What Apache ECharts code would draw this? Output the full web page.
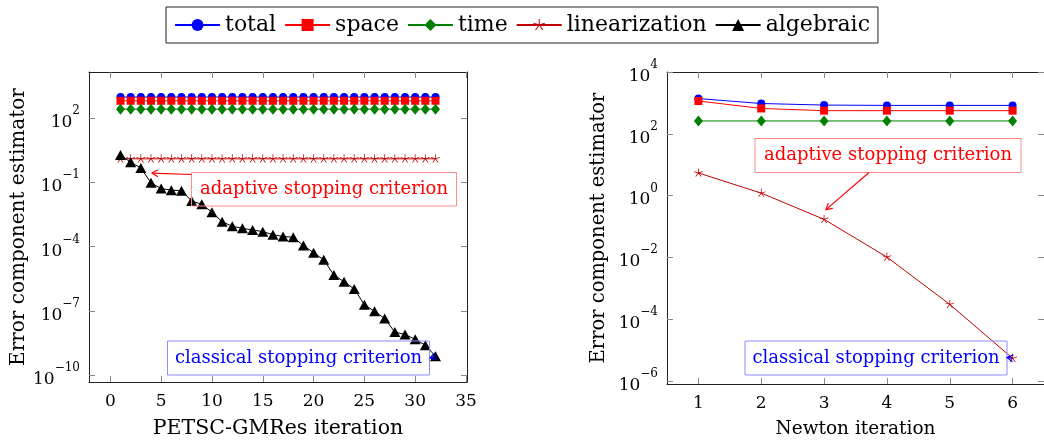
<!DOCTYPE html>
<html>
<head>
<meta charset="utf-8">
<script src="https://cdn.jsdelivr.net/npm/echarts@6/dist/echarts.min.js"></script>
<style>
html, body { margin: 0; padding: 0; background: #fff; }
#chart { width: 1044px; height: 444px; }
</style>
</head>
<body>
<div id="chart"></div>
<script>
// left plot: PETSc-GMRes iterations inside one Newton step
var gmresIters = [1, 2, 3, 4, 5, 6, 7, 8, 9, 10, 11, 12, 13, 14, 15, 16,
    17, 18, 19, 20, 21, 22, 23, 24, 25, 26, 27, 28, 29, 30, 31, 32];
var gmresTotal = [955, 955, 955, 955, 955, 955, 955, 955, 955, 955, 955, 955, 955, 955, 955, 955,
    955, 955, 955, 955, 955, 955, 955, 955, 955, 955, 955, 955, 955, 955, 955, 955];
var gmresSpace = [640, 640, 640, 640, 640, 640, 640, 640, 640, 640, 640, 640, 640, 640, 640, 640,
    640, 640, 640, 640, 640, 640, 640, 640, 640, 640, 640, 640, 640, 640, 640, 640];
var gmresTime = [260, 260, 260, 260, 260, 260, 260, 260, 260, 260, 260, 260, 260, 260, 260, 260,
    260, 260, 260, 260, 260, 260, 260, 260, 260, 260, 260, 260, 260, 260, 260, 260];
var gmresLin = [1.25, 1.25, 1.25, 1.25, 1.25, 1.25, 1.25, 1.25, 1.25, 1.25, 1.25, 1.25, 1.25, 1.25, 1.25, 1.25,
    1.25, 1.25, 1.25, 1.25, 1.25, 1.25, 1.25, 1.25, 1.25, 1.25, 1.25, 1.25, 1.25, 1.25, 1.25, 1.25];
var gmresAlg = [1.9, 0.87, 0.47, 0.095, 0.051, 0.043, 0.041, 0.0135, 0.0095, 0.004, 1.45e-3, 8.9e-4,
    7.1e-4, 6.0e-4, 5.0e-4, 3.6e-4, 2.95e-4, 2.75e-4, 1.12e-4, 5.2e-5, 2.45e-5, 4.7e-6, 2.3e-6, 1.05e-6,
    1.95e-7, 9.5e-8, 4.4e-8, 1.02e-8, 7.9e-9, 4.7e-9, 2.5e-9, 7.6e-10];

// right plot: Newton iterations
var newtonIters = [1, 2, 3, 4, 5, 6];
var newtonTotal = [1380, 955, 850, 830, 830, 830];
var newtonSpace = [1150, 660, 560, 560, 560, 560];
var newtonTime = [260, 260, 260, 260, 260, 260];
var newtonLin = [5.4, 1.2, 0.17, 0.0102, 3e-4, 5.4e-6];

// ticks (y ticks are powers of ten)
var leftXTicks = [0, 5, 10, 15, 20, 25, 30, 35];
var leftYExp = [-10, -7, -4, -1, 2];
var rightXTicks = [1, 2, 3, 4, 5, 6];
var rightYExp = [-6, -4, -2, 0, 2, 4];

// where the annotation arrows point (data coordinates)
var leftAdaptiveTip = [4.1, 0.27];
var rightAdaptiveTip = [3.03, 0.35];

var FONT = '"DejaVu Serif", serif';
var chart = echarts.init(document.getElementById('chart'));

function starPath() {
    var d = '', w = 0.08;
    for (var k = 0; k < 5; k++) {
        var a = (-90 + 72 * k) * Math.PI / 180;
        var cx = Math.cos(a), cy = Math.sin(a), px = -cy * w, py = cx * w;
        d += 'M' + px.toFixed(3) + ' ' + py.toFixed(3) +
            'L' + (cx + px).toFixed(3) + ' ' + (cy + py).toFixed(3) +
            'L' + (cx - px).toFixed(3) + ' ' + (cy - py).toFixed(3) +
            'L' + (-px).toFixed(3) + ' ' + (-py).toFixed(3) + 'Z';
    }
    d += 'M-0.01 1L0.01 1L0 0.99Z';
    return 'path://' + d;
}
var STAR = starPath();

function pow10Label(v) {
    var e = v < 0 ? '\u2212' + (-v) : '' + v;
    return '{b|10}{e|' + e + '}';
}

function xAxisPair(grid, min, max, ticks, name, nameSize) {
    var tickStyle = { show: true, inside: true, length: 6, customValues: ticks, lineStyle: { color: '#888', width: 1 } };
    return [{
        type: 'value', gridIndex: grid, min: min, max: max, position: 'bottom',
        name: name, nameLocation: 'middle', nameGap: 36,
        nameTextStyle: { fontFamily: FONT, fontSize: nameSize, color: '#000' },
        axisLine: { onZero: false, lineStyle: { color: '#222', width: 1 } },
        axisTick: tickStyle,
        axisLabel: { customValues: ticks, margin: 11, fontFamily: FONT, fontSize: 17, color: '#000' },
        splitLine: { show: false }
    }, {
        type: 'value', gridIndex: grid, min: min, max: max, position: 'top',
        axisLine: { onZero: false, lineStyle: { color: '#222', width: 1 } },
        axisTick: tickStyle,
        axisLabel: { show: false },
        splitLine: { show: false }
    }];
}

function yAxisPair(grid, min, max, exps, nameSize) {
    var tickStyle = { show: true, inside: true, length: 6, customValues: exps, lineStyle: { color: '#888', width: 1 } };
    return [{
        type: 'value', gridIndex: grid, min: min, max: max, position: 'left',
        name: 'Error component estimator', nameLocation: 'middle', nameGap: 58,
        nameTextStyle: { fontFamily: FONT, fontSize: nameSize, color: '#000' },
        axisLine: { onZero: false, lineStyle: { color: '#222', width: 1 } },
        axisTick: tickStyle,
        axisLabel: {
            customValues: exps, margin: 9, formatter: pow10Label,
            rich: {
                b: { fontFamily: FONT, fontSize: 17, color: '#000', verticalAlign: 'bottom', lineHeight: 26 },
                e: { fontFamily: FONT, fontSize: 12, color: '#000', verticalAlign: 'top', lineHeight: 26 }
            }
        },
        splitLine: { show: false }
    }, {
        type: 'value', gridIndex: grid, min: min, max: max, position: 'right',
        axisLine: { onZero: false, lineStyle: { color: '#222', width: 1 } },
        axisTick: tickStyle,
        axisLabel: { show: false },
        splitLine: { show: false }
    }];
}

function series(name, xs, ys, color, symbol, size, grid) {
    return {
        name: name, type: 'line', xAxisIndex: grid * 2, yAxisIndex: grid * 2,
        data: xs.map(function (x, i) { return [x, Math.log10(ys[i])]; }),
        symbol: symbol, symbolSize: size, showSymbol: true,
        lineStyle: { color: color, width: 1 },
        itemStyle: { color: color, borderWidth: 0 },
        emphasis: { disabled: true },
        animation: false
    };
}

var BLUE = '#0000ff', RED = '#ff0000', GREEN = '#008000', DARKRED = '#bf0000', BLACK = '#000000';

chart.setOption({
    animation: false,
    grid: [
        { left: 89, top: 72, width: 378, height: 313 },
        { left: 667, top: 72, width: 378, height: 313 }
    ],
    legend: {
        data: ['total', 'space', 'time', 'linearization', 'algebraic'],
        top: 7, left: 'center',
        borderColor: '#222', borderWidth: 1, padding: [7, 8],
        itemWidth: 45, itemHeight: 15, itemGap: 8,
        textStyle: { fontFamily: FONT, fontSize: 22, color: '#000' }
    },
    xAxis: [].concat(
        xAxisPair(0, -2.1, 35.1, leftXTicks, 'PETSC-GMRes iteration', 20.5),
        xAxisPair(1, 0.5, 6.5, rightXTicks, 'Newton iteration', 18.5)
    ),
    yAxis: [].concat(
        yAxisPair(0, -10.32, 4.15, leftYExp, 20),
        yAxisPair(1, -6.1, 4.0, rightYExp, 19.5)
    ),
    series: [
        series('total', gmresIters, gmresTotal, BLUE, 'circle', 8, 0),
        series('space', gmresIters, gmresSpace, RED, 'rect', 8, 0),
        series('time', gmresIters, gmresTime, GREEN, 'diamond', [9, 11], 0),
        series('linearization', gmresIters, gmresLin, DARKRED, STAR, 9, 0),
        series('algebraic', gmresIters, gmresAlg, BLACK, 'triangle', [11, 10], 0),
        series('total', newtonIters, newtonTotal, BLUE, 'circle', 8, 1),
        series('space', newtonIters, newtonSpace, RED, 'rect', 8, 1),
        series('time', newtonIters, newtonTime, GREEN, 'diamond', [9, 11], 1),
        series('linearization', newtonIters, newtonLin, DARKRED, STAR, 9, 1)
    ]
});

function px(grid, pt) {
    return chart.convertToPixel({ xAxisIndex: grid * 2, yAxisIndex: grid * 2 }, [pt[0], Math.log10(pt[1])]);
}

function arrow(from, to, color) {
    var dx = to[0] - from[0], dy = to[1] - from[1];
    var len = Math.sqrt(dx * dx + dy * dy), ux = dx / len, uy = dy / len;
    var h = 6, s = 3.5;
    return [{
        type: 'line', z: 10,
        shape: { x1: from[0], y1: from[1], x2: to[0], y2: to[1] },
        style: { stroke: color, lineWidth: 1.2 }
    }, {
        type: 'polyline', z: 10,
        shape: { points: [
            [to[0] - ux * h - uy * s, to[1] - uy * h + ux * s],
            [to[0], to[1]],
            [to[0] - ux * h + uy * s, to[1] - uy * h - ux * s]
        ] },
        style: { stroke: color, lineWidth: 1.2, fill: 'none' }
    }];
}

function box(x, y, w, h, text, stroke, color) {
    return [{
        type: 'rect', z: 10,
        shape: { x: x, y: y, width: w, height: h },
        style: { fill: 'none', stroke: stroke, lineWidth: 1 }
    }, {
        type: 'text', z: 10, x: x + w / 2, y: y + h / 2,
        style: { text: text, fill: color, fontFamily: FONT, fontSize: 18, align: 'center', verticalAlign: 'middle' }
    }];
}

var leftLast = px(0, [gmresIters[gmresIters.length - 1], gmresAlg[gmresAlg.length - 1]]);
var rightLast = px(1, [newtonIters[newtonIters.length - 1], newtonLin[newtonLin.length - 1]]);

chart.setOption({
    graphic: [].concat(
        box(191.5, 172.5, 265, 33.5, 'adaptive stopping criterion', '#ff8c8c', RED),
        arrow([191.5, 174.5], px(0, leftAdaptiveTip), RED),
        box(755, 138.5, 266, 34, 'adaptive stopping criterion', '#ff8c8c', RED),
        arrow([869, 172.5], px(1, rightAdaptiveTip), RED),
        box(167.5, 341, 262, 34, 'classical stopping criterion', '#8c8cff', BLUE),
        arrow(leftLast, [430, 358], BLUE),
        box(745, 341, 262, 34, 'classical stopping criterion', '#8c8cff', BLUE),
        arrow(rightLast, [1007, 357.5], BLUE)
    )
});
</script>
</body>
</html>
